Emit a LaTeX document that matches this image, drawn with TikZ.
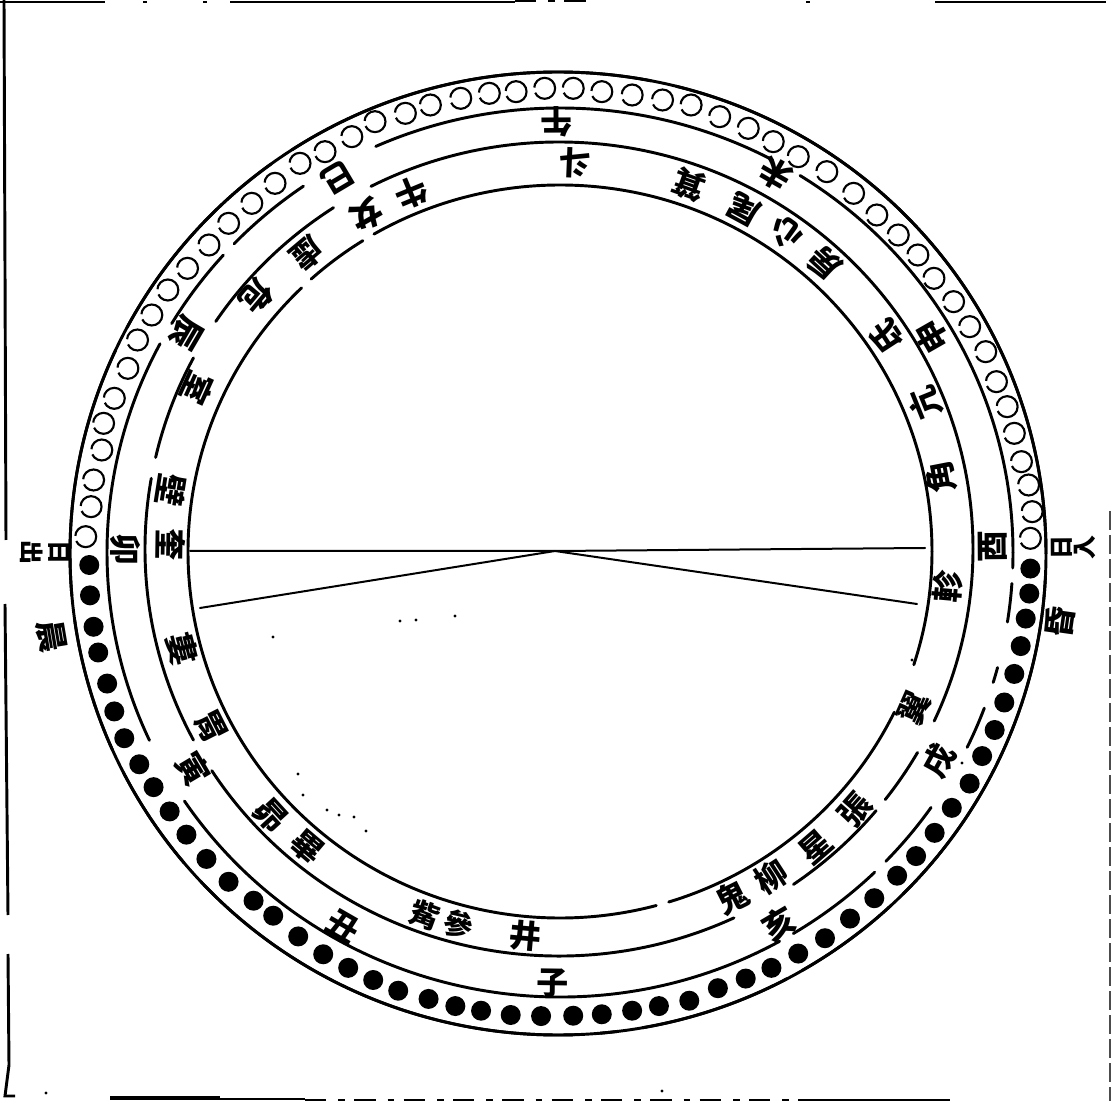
\documentclass[tikz,border=0pt]{standalone}
\usepackage{fontspec}
\newfontfamily\cjk{Noto Sans CJK TC}
\tikzset{
  x=0.75pt,y=0.75pt,
  ring/.style={line width=2.2pt,line cap=round},
  fan/.style={line width=1.5pt,line cap=round},
  edge/.style={line width=2.2pt},
  thinedge/.style={line width=1.3pt,dash pattern=on 16pt off 9pt on 5pt off 7pt},
  blackdot/.style={fill=black},
  whitedot/.style={draw=black,line width=1.6pt,dash pattern=on 24pt off 4pt},
  glyph/.style={inner sep=0pt,font=\cjk\bfseries\fontsize{24}{24}\selectfont},
  smallglyph/.style={inner sep=0pt,font=\cjk\bfseries\fontsize{22}{22}\selectfont},
  tinyglyph/.style={inner sep=0pt,font=\cjk\bfseries\fontsize{18}{18}\selectfont}
}
% centre x, centre y (y up), x radius, y radius, list of arcs
\newcommand{\ringarcs}[5]{%
  \foreach \a/\b in {#5}{%
    \draw[ring] ({#1+#3*cos(\a)},{#2+#4*sin(\a)}) arc[start angle=\a,end angle=\b,x radius=#3,y radius=#4];
  }%
}
\begin{document}
\begin{tikzpicture}
\useasboundingbox (0,0) rectangle (1111,1101);
% worn frame
\draw[edge] (4,1101) -- (6,1101-540);
\draw[edge] (5,1101-604) -- (8,1101-915);
\draw[edge] (8,1101-954) -- (9,1101-1065) -- (5,1101-1096) -- (15,1101-1096);
\draw[edge] (0,1099) -- (105,1099);
\draw[edge] (143,1099) -- (147,1099);
\draw[edge] (203,1099) -- (207,1099);
\draw[edge] (230,1099) -- (515,1099);
\draw[thinedge] (515,1100) -- (590,1100);
\draw[edge] (806,1099) -- (810,1099);
\draw[edge] (935,1099) -- (1106,1099);
\draw[line width=3pt] (110,3) -- (220,3);
\draw[edge] (220,2) -- (305,2);
\draw[thinedge] (305,1) -- (800,1);
\draw[edge] (800,1) -- (950,1);
\draw[line width=1pt,dash pattern=on 14pt off 4pt,black!70] (1110,590) -- (1110,0);
% rings
\ringarcs{558}{1101-553.5}{488}{481.5}{-360/-88, -85/-83, -80/-62, -60/-47, -45/-3, 0/76, 79/123, 126/152, 155/185, 188/204, 207/220, 223/360}
\ringarcs{560}{1101-552.5}{453}{444.5}{0/58, 62/114, 124.5/136, 138/149, 152/205, 214/299, 301/314, 316/325, 334/339.5, 343/345, 351/356, 358/360}
\ringarcs{559}{1101-549}{414}{407}{0/117, 123/146, 152/167, 170/208, 213/295, 304.5/320, 322/330, 335/360}
\ringarcs{560}{1101-551.5}{372}{366.5}{0/120, 122/132, 134/285, 287/334, 342/360}
% hour dots
\foreach \px/\py in {250/70,252/155,262/243,275/315,300/402,320/480,348/555,390/628,430/692,475/760,522/825,578/893,640/957,710/1010,765/1052,835/1110,905/1160,975/1198,1045/1232,1115/1262,1200/1285,1275/1305,1347/1318,1430/1330,1515/1333}
  \fill[blackdot] ({\px/2.8},{1101-540-\py/2.8}) circle[radius=10];
\foreach \px/\py in {65/1332,145/1328,230/1318,305/1305,390/1290,470/1255,548/1228,620/1198,695/1158,770/1115,840/1060,908/1003,972/940,1025/885,1077/820,1125/750,1175/682,1210/605,1245/532,1272/455,1300/375,1318/297,1332/220,1342/150,1345/80}
  \fill[blackdot] ({550+\px/2.8},{1101-540-\py/2.8}) circle[radius=10];
\foreach \px/\py in {240/1490,255/1400,262/1320,285/1230,290/1150,320/1075,358/985,385/900,425/825,470/750,525/685,585/615,640/550,705/490,770/430,840/370,910/335,985/290,1050/245,1135/220,1205/195,1290/175,1370/160,1445/155,1525/145}
  \draw[whitedot] ({\px/2.8},{1101-40-\py/3}) circle[radius=10.5];
\foreach \px/\py in {65/145,145/155,230/165,315/180,395/195,475/230,555/265,625/305,695/350,775/395,850/460,915/525,975/585,1030/645,1075/715,1130/785,1175/860,1220/935,1250/1025,1280/1100,1300/1180,1320/1265,1340/1335,1350/1415,1345/1495}
  \draw[whitedot] ({550+\px/2.8},{1101-40-\py/3}) circle[radius=10.5];
% fan of lines
\coordinate (apex) at (555,1101-551);
\coordinate (wl) at (190,1101-551);
\coordinate (el) at (925,1101-548);
\coordinate (wb) at (200,1101-608);
\coordinate (eb) at (917,1101-604);
\draw[fan] (wl) -- (apex) -- (el);
\draw[fan] (wb) -- (apex) -- (eb);
% characters: the head of each points to the centre
\foreach \c/\x/\y [count=\n] in {午/557/122,未/776/174,申/932/337,酉/993/547,戌/939/761,亥/779/924,子/553/983,丑/343/926,寅/193/769,卯/125/550,辰/186/333,巳/338/178,
  軫/948/586,翼/914/708,張/855/810,星/816/847,柳/771/877,鬼/732/897,井/525/936,畢/307/847,昴/271/815,胃/211/727,婁/182/649,奎/171/545,壁/171/490,室/198/388,危/257/297,虛/307/253,女/367/215,牛/411/193,斗/575/163,箕/689/185,尾/744/209,心/786/233,房/825/263,氐/887/337,亢/925/403,角/941/477,晨/52/636,昏/1060/622}{
  \pgfmathsetmacro\ang{atan2(1101-\y-550,\x-559)+90}
  \node[glyph,rotate=\ang] (g\n) at (\x,1101-\y) {\c};
}
\foreach \c/\x/\y [count=\n] in {參/459/924,觜/425/915}{
  \pgfmathsetmacro\ang{atan2(1101-\y-550,\x-559)+90}
  \node[smallglyph,rotate=\ang] (s\n) at (\x,1101-\y) {\c};
}
\foreach \c/\x/\y [count=\n] in {日/59/552,出/32/552,日/1062/548,入/1085/548}{
  \pgfmathsetmacro\ang{atan2(1101-\y-550,\x-559)+90}
  \node[tinyglyph,rotate=\ang] (t\n) at (\x,1101-\y) {\c};
}
% specks
\foreach \x/\y in {400/621,416/620,455/616,273/637,298/774,303/795,327/810,339/815,354/817,366/831,912/660,962/763,662/1091,46/1093}
  \fill ({\x},{1101-\y}) circle[radius=1.6];
\end{tikzpicture}
\end{document}
